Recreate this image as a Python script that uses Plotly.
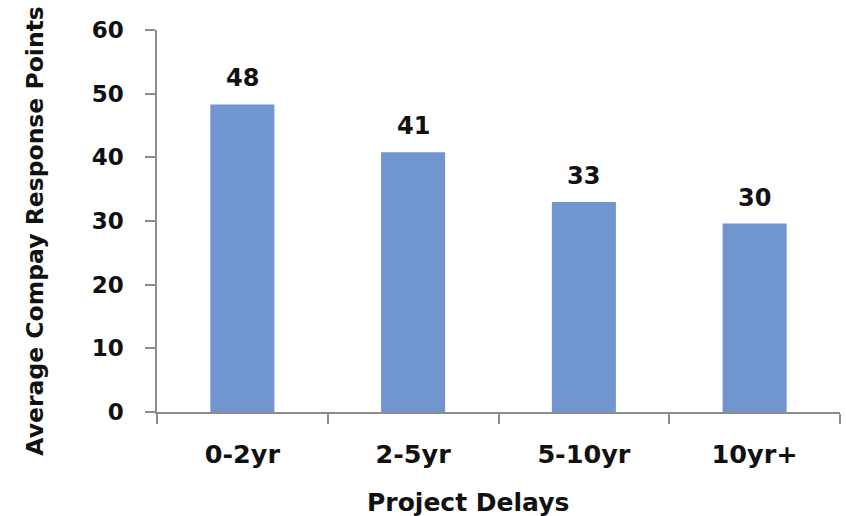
import plotly.graph_objects as go

categories = ["0-2yr", "2-5yr", "5-10yr", "10yr+"]
values = [48.3, 40.8, 33.0, 29.6]
labels = ["48", "41", "33", "30"]
y_ticks = [0, 10, 20, 30, 40, 50, 60]
x_title = "Project Delays"
y_title = "Average Compay Response Points"

FONT = "'DejaVu Sans', Verdana, sans-serif"
AXIS_COLOR = "#8c8c8c"
TEXT_COLOR = "#111111"

fig = go.Figure(
    go.Bar(
        x=categories,
        y=values,
        marker=dict(color="#7095cf", line=dict(width=0)),
        hoverinfo="x+y",
    )
)

annotations = [
    dict(
        x=c,
        y=v,
        xref="x",
        yref="y",
        text=t,
        showarrow=False,
        xanchor="center",
        yanchor="bottom",
        yshift=10,
        font=dict(family=FONT, size=24, color=TEXT_COLOR, weight="bold"),
    )
    for c, v, t in zip(categories, values, labels)
]
annotations.append(
    dict(
        text=x_title,
        xref="paper",
        yref="paper",
        x=0.456,
        y=-0.236,
        xanchor="center",
        yanchor="middle",
        showarrow=False,
        font=dict(family=FONT, size=25, color=TEXT_COLOR, weight="bold"),
    )
)
annotations.append(
    dict(
        text=y_title,
        xref="paper",
        yref="paper",
        x=-0.179,
        y=0.474,
        xanchor="center",
        yanchor="middle",
        textangle=-90,
        showarrow=False,
        font=dict(family=FONT, size=23.5, color=TEXT_COLOR, weight="bold"),
    )
)

fig.update_layout(
    width=846,
    height=516,
    margin=dict(l=157, r=6, t=30, b=104),
    paper_bgcolor="white",
    plot_bgcolor="white",
    bargap=0.625,
    showlegend=False,
    font=dict(family=FONT, color=TEXT_COLOR),
    annotations=annotations,
)

fig.update_yaxes(
    range=[0, 60],
    tickvals=y_ticks,
    showgrid=False,
    zeroline=False,
    showline=True,
    linecolor=AXIS_COLOR,
    linewidth=1.5,
    ticks="outside",
    ticklen=10,
    tickcolor=AXIS_COLOR,
    tickwidth=1.5,
    ticklabelstandoff=17,
    automargin=False,
    tickfont=dict(family=FONT, size=23, color=TEXT_COLOR, weight="bold"),
)

fig.update_xaxes(
    showgrid=False,
    showline=True,
    linecolor=AXIS_COLOR,
    linewidth=1.5,
    ticks="outside",
    tickson="boundaries",
    ticklen=10,
    tickcolor=AXIS_COLOR,
    tickwidth=1.5,
    ticklabelstandoff=19,
    automargin=False,
    tickfont=dict(family=FONT, size=25.5, color=TEXT_COLOR, weight="bold"),
)

fig.write_html(
    "out.html",
    config={"displayModeBar": False},
    post_script="document.body.style.margin='0';document.body.style.padding='0';",
)
